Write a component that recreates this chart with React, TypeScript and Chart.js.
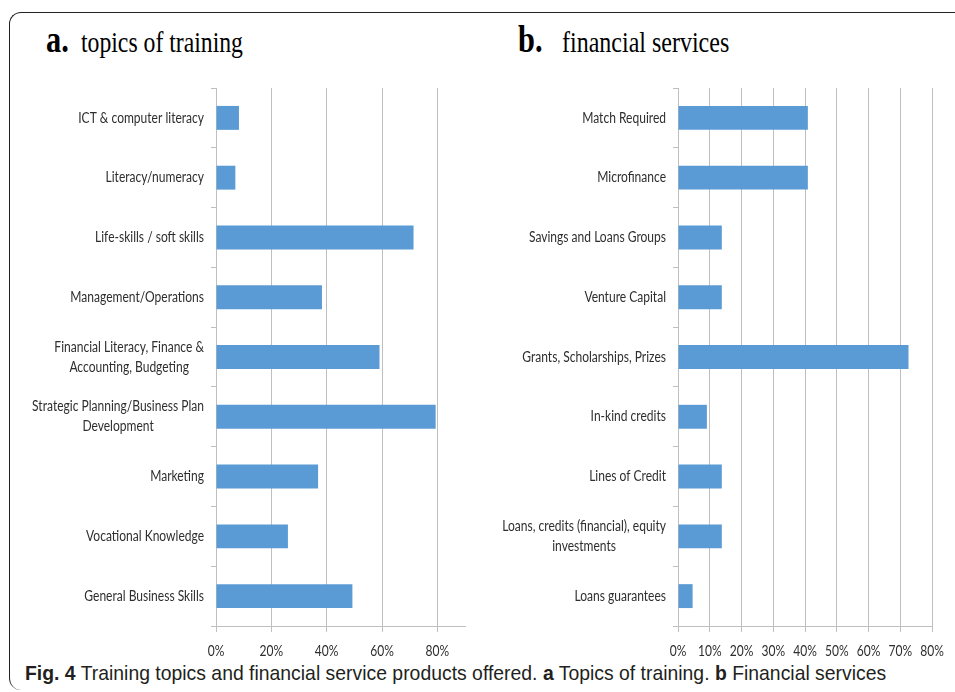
import React, { useEffect, useRef } from "react";
import { Chart, registerables } from "chart.js";

Chart.register(...registerables);

// ---------- data ----------
const trainingTopics: (string | string[])[] = [
  "ICT & computer literacy",
  "Literacy/numeracy",
  "Life-skills / soft skills",
  "Management/Operations",
  ["Financial Literacy, Finance &", "Accounting, Budgeting"],
  ["Strategic Planning/Business Plan", "Development"],
  "Marketing",
  "Vocational Knowledge",
  "General Business Skills",
];
const trainingShares = [8.3, 7.0, 71.4, 38.3, 59.1, 79.4, 36.9, 26.0, 49.3];
const trainingTicks = [0, 20, 40, 60, 80];
const trainingMax = 90;

const financialServices: (string | string[])[] = [
  "Match Required",
  "Microfinance",
  "Savings and Loans Groups",
  "Venture Capital",
  "Grants, Scholarships, Prizes",
  "In-kind credits",
  "Lines of Credit",
  ["Loans, credits (financial), equity", "investments"],
  "Loans guarantees",
];
const financialShares = [40.9, 40.9, 13.8, 13.8, 72.6, 9.1, 13.8, 13.8, 4.6];
const financialTicks = [0, 10, 20, 30, 40, 50, 60, 70, 80];
const financialMax = 80;

// ---------- styles ----------
const BAR = "#5B9BD5";
const GRID = "#BFBFBF";
const TEXT = "#2e2e2e";
const LABEL_FONT = 'Lato, "Open Sans", sans-serif';
const LABEL_SIZE = 14.5;
const LABEL_SX = 0.83;
const LINE_H = 20;

function drawScaled(ctx: CanvasRenderingContext2D, text: string, cx: number, cy: number) {
  ctx.save();
  ctx.translate(cx, cy);
  ctx.scale(LABEL_SX, 1);
  ctx.fillText(text, 0, 0);
  ctx.restore();
}

const labelPlugin = {
  id: "axisLabels",
  afterDraw(chart: any) {
    const ys = chart.scales.y;
    const xs = chart.scales.x;
    const ctx = chart.ctx as CanvasRenderingContext2D;
    ctx.save();
    ctx.font = `${LABEL_SIZE}px ${LABEL_FONT}`;
    ctx.fillStyle = TEXT;
    ctx.textBaseline = "middle";
    ctx.textAlign = "center";
    // category labels (lines centred on each other, block right-aligned)
    const right = ys.right - 12;
    (chart.data.labels as (string | string[])[]).forEach((lab, i) => {
      const lines = Array.isArray(lab) ? lab : [lab];
      const w = Math.max(...lines.map((l) => ctx.measureText(l).width)) * LABEL_SX;
      const cx = right - w / 2;
      const y0 = ys.getPixelForValue(i) - ((lines.length - 1) * LINE_H) / 2;
      lines.forEach((l, j) => drawScaled(ctx, l, cx, y0 + j * LINE_H));
    });
    // value-axis tick labels
    xs.ticks.forEach((t: any) => {
      drawScaled(ctx, t.value + "%", xs.getPixelForValue(t.value), xs.top + 25);
    });
    ctx.restore();
  },
};

type PanelProps = {
  labels: (string | string[])[];
  values: number[];
  ticks: number[];
  max: number;
  left: number;
  width: number;
  axisWidth: number;
  padRight: number;
};

function Panel({ labels, values, ticks, max, left, width, axisWidth, padRight }: PanelProps) {
  const ref = useRef<HTMLCanvasElement>(null);
  useEffect(() => {
    if (!ref.current) return;
    const chart = new Chart(ref.current, {
      type: "bar",
      data: {
        labels: labels as any,
        datasets: [
          {
            data: values,
            backgroundColor: BAR,
            borderWidth: 0,
            barPercentage: 0.4,
            categoryPercentage: 1,
          },
        ],
      },
      options: {
        indexAxis: "y",
        animation: false,
        responsive: false,
        maintainAspectRatio: false,
        layout: { padding: { top: 8, right: padRight, left: 0, bottom: 0 } },
        plugins: { legend: { display: false }, tooltip: { enabled: false } },
        scales: {
          x: {
            min: 0,
            max: max,
            afterBuildTicks: (s: any) => {
              s.ticks = ticks.map((v) => ({ value: v }));
            },
            afterFit: (s: any) => {
              s.height = 34;
            },
            grid: { color: GRID, lineWidth: 1, drawTicks: true, tickLength: 6, tickColor: GRID },
            border: { color: GRID, width: 1 },
            ticks: { display: false },
          },
          y: {
            afterFit: (s: any) => {
              s.width = axisWidth;
            },
            grid: { drawOnChartArea: false, drawTicks: true, tickLength: 5, tickColor: GRID, offset: true },
            border: { color: GRID, width: 1 },
            ticks: { display: false },
          },
        },
      } as any,
      plugins: [labelPlugin],
    });
    return () => chart.destroy();
  }, []);
  return (
    <canvas
      ref={ref}
      width={width}
      height={580}
      style={{ position: "absolute", left, top: 80, width, height: 580 }}
    />
  );
}

export default function App() {
  const serif = '"Liberation Serif", "Times New Roman", serif';
  const sans = '"Liberation Sans", Arial, sans-serif';
  const titleBase: React.CSSProperties = {
    position: "absolute",
    fontFamily: serif,
    lineHeight: 1,
    transformOrigin: "left",
    whiteSpace: "nowrap",
    color: "#000",
  };
  return (
    <div
      style={{
        position: "absolute",
        left: 0,
        top: 0,
        width: 955,
        height: 692,
        background: "#fff",
        overflow: "hidden",
      }}
    >
      <div
        style={{
          position: "absolute",
          left: 9,
          top: 12,
          width: 970,
          height: 678,
          borderTop: "1.5px solid #222",
          borderLeft: "1.5px solid #222",
          borderTopLeftRadius: 12,
          borderBottomLeftRadius: 12,
          boxSizing: "border-box",
        }}
      />
      {/* panel titles */}
      <div style={{ ...titleBase, left: 46, top: 20, fontWeight: "bold", fontSize: 38, transform: "scaleX(0.8)" }}>a.</div>
      <div style={{ ...titleBase, left: 81, top: 27, fontSize: 30, transform: "scaleX(0.79)" }}>topics of training</div>
      <div style={{ ...titleBase, left: 518, top: 20, fontWeight: "bold", fontSize: 38, transform: "scaleX(0.8)" }}>b.</div>
      <div style={{ ...titleBase, left: 562, top: 27, fontSize: 30, transform: "scaleX(0.8)" }}>financial services</div>

      <Panel
        labels={trainingTopics}
        values={trainingShares}
        ticks={trainingTicks}
        max={trainingMax}
        left={0}
        width={480}
        axisWidth={216}
        padRight={15}
      />
      <Panel
        labels={financialServices}
        values={financialShares}
        ticks={financialTicks}
        max={financialMax}
        left={480}
        width={475}
        axisWidth={198}
        padRight={23}
      />

      <div
        style={{
          position: "absolute",
          left: 25,
          top: 662,
          fontFamily: sans,
          fontSize: 21,
          lineHeight: 1,
          color: "#231f20",
          whiteSpace: "nowrap",
          transform: "scaleX(0.923)",
          transformOrigin: "left",
        }}
      >
        <b>Fig. 4</b> Training topics and financial service products offered. <b>a</b> Topics of training. <b>b</b> Financial services
      </div>
    </div>
  );
}
